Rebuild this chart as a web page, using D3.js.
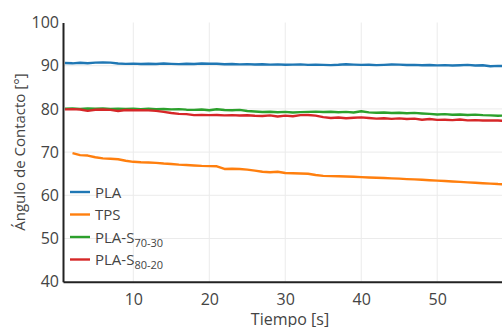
<!DOCTYPE html>
<html>
<head>
<meta charset="utf-8">
<script src="https://cdn.jsdelivr.net/npm/d3@7"></script>
<style>
  body { margin: 0; background: #fff; }
  svg { display: block; font-family: "Open Sans", sans-serif; }
</style>
</head>
<body>
<div class="chart"></div>
<script>
// time axis (s)
var times = [1,2,3,4,5,6,7,8,9,10,11,12,13,14,15,16,17,18,19,20,
  21,22,23,24,25,26,27,28,29,30,31,32,33,34,35,36,37,38,39,40,
  41,42,43,44,45,46,47,48,49,50,51,52,53,54,55,56,57,58,59]

var pla = [90.62,90.55,90.68,90.58,90.7,90.78,90.72,90.5,90.42,90.48,
  90.4,90.46,90.38,90.5,90.42,90.36,90.45,90.4,90.5,90.44,
  90.46,90.32,90.38,90.3,90.36,90.28,90.34,90.26,90.3,90.22,
  90.24,90.3,90.18,90.26,90.2,90.14,90.22,90.34,90.25,90.18,
  90.22,90.14,90.2,90.28,90.24,90.16,90.2,90.1,90.16,90.08,
  90.14,90.06,90.12,90.18,90.04,90.1,89.86,89.95,89.9]

var tps = [null,69.75,69.3,69.2,68.8,68.55,68.45,68.35,68.0,67.75,
  67.65,67.6,67.5,67.35,67.25,67.1,67.0,66.9,66.8,66.75,
  66.72,66.1,66.15,66.1,65.95,65.7,65.45,65.35,65.45,65.15,
  65.1,65.05,65.0,64.7,64.5,64.45,64.4,64.35,64.3,64.2,
  64.12,64.05,64.0,63.92,63.85,63.75,63.68,63.6,63.5,63.4,
  63.3,63.2,63.1,63.0,62.9,62.8,62.7,62.6,62.55]

var s7030 = [80.05,80.1,80.0,80.08,80.02,80.1,79.98,80.06,80.0,80.05,
  79.95,80.02,79.92,79.98,79.9,79.95,79.82,79.78,79.85,79.7,
  79.92,79.75,79.7,79.78,79.5,79.4,79.28,79.35,79.22,79.3,
  79.18,79.25,79.3,79.38,79.28,79.35,79.22,79.3,79.18,79.45,
  79.2,79.1,79.18,79.05,79.12,79.0,79.08,78.95,78.85,78.7,
  78.78,78.65,78.72,78.6,78.68,78.55,78.5,78.42,78.45]

var s8020 = [79.9,79.95,79.85,79.55,79.8,79.85,79.78,79.5,79.75,79.7,
  79.72,79.65,79.55,79.3,79.05,78.85,78.8,78.55,78.6,78.55,
  78.58,78.5,78.55,78.48,78.52,78.4,78.35,78.5,78.25,78.45,
  78.3,78.55,78.6,78.45,78.1,77.9,78.0,77.85,77.95,78.05,
  77.9,77.75,77.85,77.7,77.8,77.65,77.75,77.5,77.65,77.45,
  77.5,77.4,77.55,77.35,77.4,77.3,77.35,77.3,77.25]

var xTicks = [10, 20, 30, 40, 50]
var yTicks = [40, 50, 60, 70, 80, 90, 100]

var seriesNames = ['PLA', 'TPS', 'PLA-S', 'PLA-S']
var seriesSubs = ['', '', '70-30', '80-20']
var seriesColors = ['#1f77b4', '#ff7f0e', '#2ca02c', '#d62728']
var seriesValues = [pla, tps, s7030, s8020]

var margin = { top: 22.5, left: 63 }
var width = 454
var height = 259.2

var svg = d3.select(".chart").append("svg")
    .attr("width", 502)
    .attr("height", 327)
var g = svg.append("g")
    .attr("transform", "translate(" + margin.left + "," + margin.top + ")")

var xScale = d3.scaleLinear().domain([0.75, 60.5]).range([0, width])
var yScale = d3.scaleLinear().domain([40, 100]).range([height, 0])

// grid
g.selectAll("line.vgrid").data(xTicks).enter().append("line")
    .attr("class", "vgrid")
    .attr("x1", function(d) { return xScale(d) }).attr("x2", function(d) { return xScale(d) })
    .attr("y1", 0).attr("y2", height)
    .style("stroke", "#ebebeb").style("stroke-width", 1)
g.selectAll("line.hgrid").data(yTicks.filter(function(d) { return d > 40 && d < 100 })).enter().append("line")
    .attr("class", "hgrid")
    .attr("x1", 0).attr("x2", width)
    .attr("y1", function(d) { return yScale(d) }).attr("y2", function(d) { return yScale(d) })
    .style("stroke", "#ebebeb").style("stroke-width", 1)

// lines
var line = d3.line()
    .defined(function(d) { return d[1] != null })
    .x(function(d) { return xScale(d[0]) })
    .y(function(d) { return yScale(d[1]) })

var plot = g.append("g")
seriesValues.forEach(function(vals, i) {
    var pts = times.map(function(t, j) { return [t, vals[j]] })
    plot.append("path")
        .datum(pts)
        .attr("d", line)
        .style("fill", "none")
        .style("stroke", seriesColors[i])
        .style("stroke-width", 2.4)
        .style("stroke-linejoin", "round")
})

// axes
var xAxis = d3.axisBottom(xScale).tickValues(xTicks).tickSize(0).tickPadding(12)
var yAxis = d3.axisLeft(yScale).tickValues(yTicks).tickSize(0).tickPadding(4)

var gx = g.append("g")
    .attr("transform", "translate(0," + height + ")")
    .call(xAxis)
gx.select(".domain").style("stroke", "#222").style("stroke-width", 2)
gx.selectAll("text").style("font-size", "16px").style("fill", "#444")
    .style("font-family", "'Open Sans', sans-serif")

var gy = g.append("g").call(yAxis)
gy.select(".domain").style("stroke", "#222").style("stroke-width", 2)
gy.selectAll("text").style("font-size", "16px").style("fill", "#444")
    .style("font-family", "'Open Sans', sans-serif")

// axis titles
svg.append("text")
    .attr("x", margin.left + width / 2)
    .attr("y", 325)
    .attr("text-anchor", "middle")
    .style("font-size", "16px").style("fill", "#444")
    .text("Tiempo [s]")
svg.append("text")
    .attr("transform", "translate(25," + (margin.top + height / 2) + ") rotate(-90)")
    .attr("text-anchor", "middle")
    .style("font-size", "15px").style("fill", "#444")
    .text("Ángulo de Contacto [°]")

// legend
var legend = svg.append("g").attr("transform", "translate(70,192)")
seriesNames.forEach(function(name, i) {
    var row = legend.append("g").attr("transform", "translate(0," + (i * 22.5) + ")")
    row.append("line")
        .attr("x1", 0).attr("x2", 20).attr("y1", 0).attr("y2", 0)
        .style("stroke", seriesColors[i]).style("stroke-width", 2.4)
    var t = row.append("text")
        .attr("x", 25).attr("y", 5.5)
        .style("font-size", "15px").style("fill", "#444")
    t.append("tspan").text(name)
    if (seriesSubs[i]) {
        t.append("tspan").attr("dy", 4).style("font-size", "11px").text(seriesSubs[i])
    }
})
</script>
</body>
</html>
